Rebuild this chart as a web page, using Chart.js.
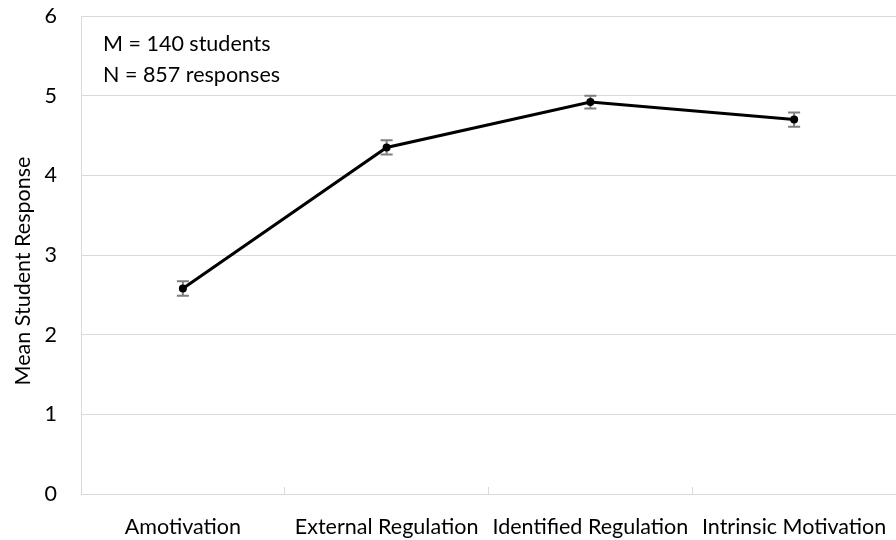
<!DOCTYPE html>
<html>
<head>
<meta charset="utf-8">
<script src="https://cdn.jsdelivr.net/npm/chart.js@4/dist/chart.umd.min.js"></script>
<style>
  html, body { margin: 0; padding: 0; background: #fff; }
  canvas { display: block; }
</style>
</head>
<body>
<canvas id="chart" width="896" height="540"></canvas>
<script>
const categories = ['Amotivation', 'External Regulation', 'Identified Regulation', 'Intrinsic Motivation'];
const means = [2.58, 4.35, 4.92, 4.70];
const errors = [0.09, 0.09, 0.08, 0.09];
const yTicks = [0, 1, 2, 3, 4, 5, 6];
const yTitle = 'Mean Student Response';
const notes = ['M = 140 students', 'N = 857 responses'];

const FONT = 'Lato, "Open Sans", sans-serif';
const FONT_SIZE = 21.5;
const GRID = '#d9d9d9';

// gray error bars with caps, drawn under the line
const errorBars = {
  id: 'errorBars',
  beforeDatasetsDraw(chart) {
    const ctx = chart.ctx;
    const x = chart.scales.x;
    const y = chart.scales.y;
    ctx.save();
    ctx.strokeStyle = '#7f7f7f';
    ctx.lineWidth = 2;
    means.forEach((m, i) => {
      const px = x.getPixelForValue(i);
      const top = y.getPixelForValue(m + errors[i]);
      const bot = y.getPixelForValue(m - errors[i]);
      ctx.beginPath();
      ctx.moveTo(px, top); ctx.lineTo(px, bot);
      ctx.moveTo(px - 6, top); ctx.lineTo(px + 6, top);
      ctx.moveTo(px - 6, bot); ctx.lineTo(px + 6, bot);
      ctx.stroke();
    });
    ctx.restore();
  }
};

// annotation box text and the y axis title (excel puts it a bit below centre)
const textBits = {
  id: 'textBits',
  afterDraw(chart) {
    const ctx = chart.ctx;
    const area = chart.chartArea;
    ctx.save();
    ctx.fillStyle = '#000';
    ctx.font = FONT_SIZE + 'px ' + FONT;
    ctx.textBaseline = 'middle';
    notes.forEach((t, i) => ctx.fillText(t, area.left + 22, area.top + 28 + i * 31));
    ctx.translate(23, (area.top + area.bottom) / 2 + 16);
    ctx.rotate(-Math.PI / 2);
    ctx.textAlign = 'center';
    ctx.fillText(yTitle, 0, 0);
    ctx.restore();
  }
};

new Chart(document.getElementById('chart'), {
  type: 'line',
  data: {
    labels: categories,
    datasets: [{
      data: means,
      borderColor: '#000',
      backgroundColor: '#000',
      borderWidth: 3,
      pointRadius: 4,
      pointBackgroundColor: '#000',
      pointBorderWidth: 0,
      tension: 0
    }]
  },
  options: {
    responsive: false,
    animation: false,
    devicePixelRatio: 1,
    layout: { autoPadding: false, padding: { top: 16, right: 0, left: 0, bottom: 0 } },
    plugins: { legend: { display: false }, tooltip: { enabled: false } },
    scales: {
      x: {
        offset: true,
        grid: { offset: true, drawOnChartArea: false, color: GRID, tickLength: -7 },
        border: { color: GRID, width: 1 },
        ticks: { color: '#000', padding: 27, maxRotation: 0, autoSkip: false, font: { family: FONT, size: FONT_SIZE } },
        afterFit(scale) {
          scale.height = 46;
          scale.paddingLeft = 0;
          scale.paddingRight = 0;
        }
      },
      y: {
        min: 0,
        max: 6,
        afterBuildTicks(scale) { scale.ticks = yTicks.map(v => ({ value: v })); },
        grid: { color: GRID, drawTicks: false },
        border: { color: GRID, width: 1 },
        ticks: { color: '#000', padding: 24, font: { family: FONT, size: FONT_SIZE } },
        afterFit(scale) {
          scale.width = 81;
          scale.paddingTop = 0;
          scale.paddingBottom = 0;
        }
      }
    }
  },
  plugins: [errorBars, textBits]
});
</script>
</body>
</html>
